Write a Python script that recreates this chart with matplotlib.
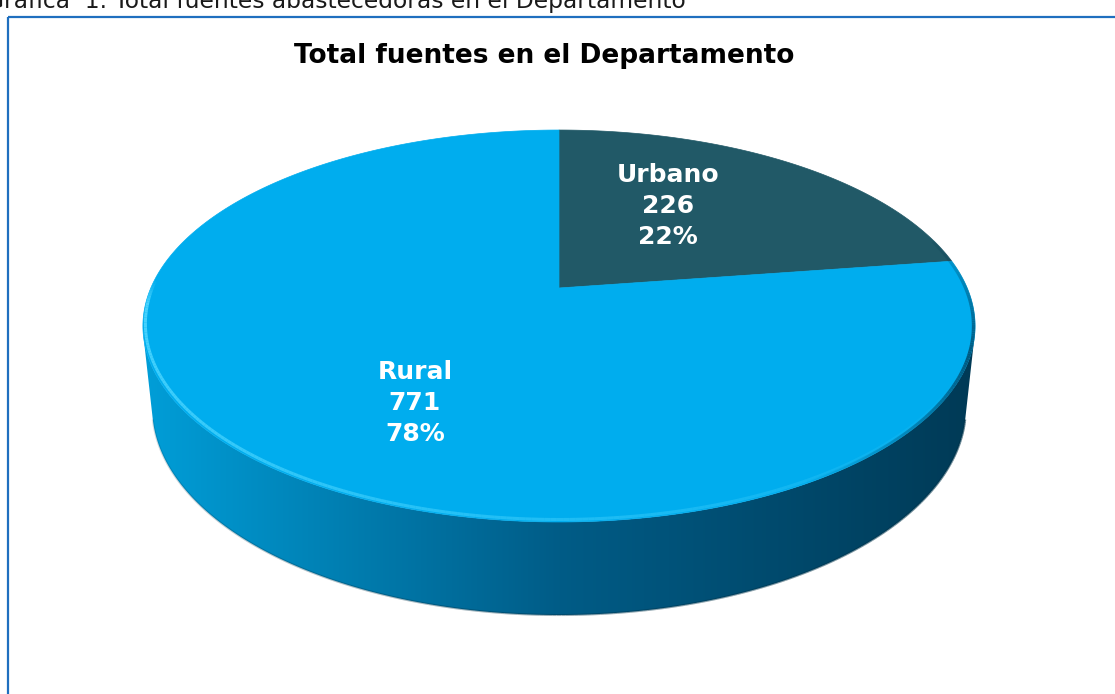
import numpy as np
import matplotlib
matplotlib.use("Agg")
import matplotlib.pyplot as plt
from matplotlib.patches import Polygon, Rectangle
from matplotlib.collections import LineCollection

# data
labels = ["Urbano", "Rural"]
values = [226, 771]
pct_text = ["22%", "78%"]
title = "Total fuentes en el Departamento"
caption = "Gráfica  1. Total fuentes abastecedoras en el Departamento"

top_colors = ["#215967", "#00ADEE"]

# perspective camera for the 3d disc (pixel units)
X0, Y0 = 559, 288
SX, SY = 1876, 1912
D = 4.596
ELEV = np.radians(26.96)
H = 0.2215
c, s = np.cos(ELEV), np.sin(ELEV)


def project(xw, tw, zw):
    depth = tw * c - zw * s + D
    sx = X0 + SX * xw / depth
    sy = Y0 - SY * (tw * s + zw * c) / depth
    return sx, sy


def rim(phi_deg, z=0.0):
    ph = np.radians(phi_deg)
    return project(np.cos(ph), np.sin(ph), z)


def segs(x, y):
    pts = np.column_stack([x, y]).reshape(-1, 1, 2)
    return np.concatenate([pts[:-1], pts[1:]], axis=1)


fig = plt.figure(figsize=(11.15, 6.94), dpi=100)
ax = fig.add_axes([0, 0, 1, 1])
ax.set_xlim(0, 1115)
ax.set_ylim(694, 0)
ax.axis("off")

# frame and caption (caption is cut at the top edge, as in the source)
ax.add_patch(Rectangle((8, 17), 1120, 700, fill=False, edgecolor="#1F6FBF", lw=1.6, zorder=0))
ax.text(686, 8, caption, ha="right", va="baseline", fontsize=16.8, color="#1a1a1a",
        family="DejaVu Sans")
ax.text(544, 56, title, ha="center", va="center", fontsize=19, fontweight="bold",
        color="black", family="DejaVu Sans")

# side wall (visible front part)
phi_t = np.degrees(np.arcsin(1.0 / (D * c)))
front = np.linspace(180 + phi_t, 360 - phi_t, 300)
tx, ty = rim(front, 0.0)
bx, by = rim(front[::-1], -H)
side_xy = np.column_stack([np.concatenate([tx, bx]), np.concatenate([ty, by])])
side = Polygon(side_xy, closed=True, facecolor="none", edgecolor="none")
ax.add_patch(side)

grad_x = np.linspace(0, 1, 256)
c_left = np.array([0, 158, 216]) / 255
c_mid = np.array([0, 92, 135]) / 255
c_right = np.array([0, 58, 86]) / 255
grad = np.where(grad_x[:, None] < 0.5,
                c_left + (c_mid - c_left) * (grad_x[:, None] / 0.5),
                c_mid + (c_right - c_mid) * ((grad_x[:, None] - 0.5) / 0.5))
im = ax.imshow(grad[None, :, :], extent=(side_xy[:, 0].min(), side_xy[:, 0].max(),
                                         side_xy[:, 1].max(), side_xy[:, 1].min()),
               aspect="auto", zorder=1, interpolation="bilinear")
im.set_clip_path(side)

# dark shadow along bottom edge, stronger towards the front/right
sx_b, sy_b = rim(front, -H)
alph = np.linspace(0.15, 0.65, len(front) - 1)
ax.add_collection(LineCollection(segs(sx_b, sy_b), colors=[(0, 0.2, 0.29, a) for a in alph],
                                 linewidths=1.5, zorder=2))

# top slices
total = sum(values)
start = 90.0
for val, col in zip(values, top_colors):
    sweep = 360.0 * val / total
    phis = np.linspace(start, start - sweep, 400)
    px, py = rim(phis, 0.0)
    xy = np.column_stack([np.concatenate([[X0], px]), np.concatenate([[Y0], py])])
    ax.add_patch(Polygon(xy, closed=True, facecolor=col, edgecolor=col, lw=0.5, zorder=3))
    start -= sweep

# rim light on the left/front edge of the top
hl = np.linspace(178, 335, 220)
hx, hy = rim(hl, 0.0)
hx = hx + 2.5 * np.cos(np.radians(hl)) * -1
hy = hy - 2.5
alph = np.clip(1.0 - (hl[:-1] - 185) / 150, 0, 1) * 0.95
alph[hl[:-1] < 185] *= np.clip((hl[:-1][hl[:-1] < 185] - 178) / 7, 0, 1)
ax.add_collection(LineCollection(segs(hx, hy), colors=[(0.3, 0.84, 1.0, a) for a in alph],
                                 linewidths=2.2, zorder=4))

# shadow on the right edge of the top
sh = np.linspace(-60, 15, 120)
shx, shy = rim(sh, 0.0)
shx = shx - 1.5
alph = np.clip(1.0 - np.abs(sh[:-1] + 20) / 40, 0, 1) * 0.7
ax.add_collection(LineCollection(segs(shx, shy), colors=[(0.0, 0.2, 0.3, a) for a in alph],
                                 linewidths=2.5, zorder=4))

# data labels
label_pos = [(668, 206), (415, 403)]
for lab, val, pt, (lx, ly) in zip(labels, values, pct_text, label_pos):
    ax.text(lx, ly, f"{lab}\n{val}\n{pt}", ha="center", va="center", fontsize=18,
            fontweight="bold", color="white", linespacing=1.36, zorder=5,
            family="DejaVu Sans")

fig.savefig("out.png", dpi=100)
